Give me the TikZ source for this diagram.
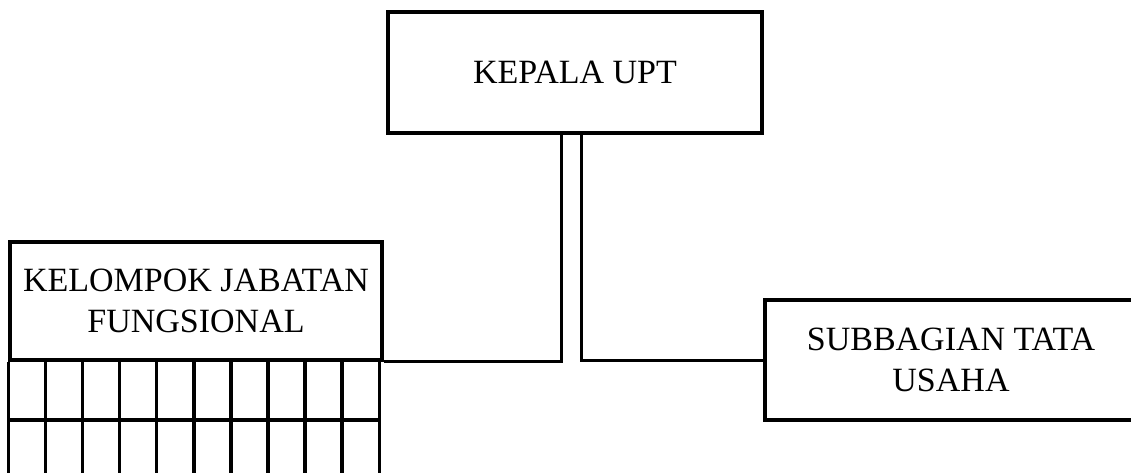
\documentclass[tikz,border=0pt]{standalone}
\usepackage{fontspec}
\setmainfont{Liberation Serif}
\usetikzlibrary{calc}
\tikzset{>=latex}
\tikzset{unitbox/.style={draw,line width=3.5pt,align=center,inner sep=0pt,
    font=\fontsize{34}{41}\selectfont}}

\begin{document}
\begin{tikzpicture}[x=1pt,y=-1pt]
    \clip (0,0) rectangle (1131,473);

    \node [unitbox,minimum width=374pt,minimum height=121pt]
    (kepala) at (575,72.5) {KEPALA UPT};

    \node [unitbox,minimum width=372pt,minimum height=118pt]
    (kjf) at (196,301) {KELOMPOK JABATAN\\FUNGSIONAL};

    \node [unitbox,minimum width=372pt,minimum height=120pt]
    (tu) at (951,360) {SUBBAGIAN TATA\\USAHA};

    \coordinate (grid) at (kjf.south west);
    \foreach \i in {0,...,10}
        \draw [line width=3.5pt] ($(grid)+(37.1*\i,0)$) -- ++(0,130);
    \draw [line width=3.5pt] ($(grid)+(0,58)$) -- ++(371,0);

    \draw [line width=3pt] ([xshift=-14pt]kepala.south) |- (kjf.south east);
    \draw [line width=3pt] ([xshift=6pt]kepala.south) |- (tu.west);
\end{tikzpicture}
\end{document}
